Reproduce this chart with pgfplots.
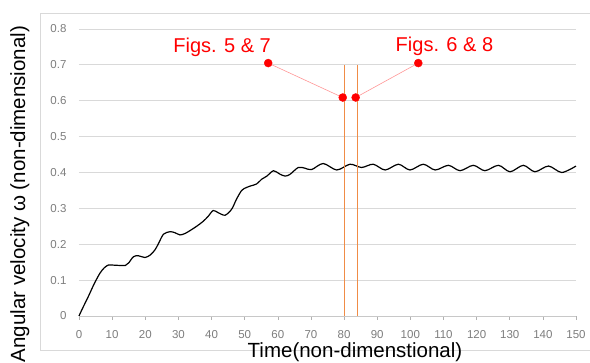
\documentclass[border=0pt]{standalone}
\usepackage{fontspec}
\setmainfont{Liberation Sans}
\usepackage{pgfplots}
\pgfplotsset{compat=1.18}
\definecolor{gridc}{RGB}{217,217,217}
\definecolor{axisc}{RGB}{200,200,200}
\definecolor{tickc}{RGB}{125,125,125}
\definecolor{orangec}{RGB}{240,140,70}
\definecolor{lightred}{RGB}{255,150,150}
\definecolor{framec}{RGB}{217,217,217}
\begin{document}
\begin{tikzpicture}
\path[use as bounding box] (0,0) rectangle (590pt,363pt);
\draw[framec, line width=0.8pt] (40pt,13pt) rectangle (600pt,350pt);
\begin{axis}[
  at={(79pt,47pt)}, anchor=south west,
  scale only axis, width=497pt, height=287pt,
  xmin=0, xmax=150, ymin=0, ymax=0.8,
  xtick={0,10,...,150},
  ytick={0,0.1,...,0.8},
  axis line style={draw=none},
  ymajorgrids, grid style={gridc, line width=0.8pt},
  tick align=outside, xtick pos=bottom, ytick pos=left,
  major tick length=4pt,
  xtick style={tickc!60, line width=0.6pt},
  ytick style={draw=none},
  /pgf/number format/assume math mode=true,
  /pgf/number format/fixed,
  ticklabel style={font=\fontsize{11.5}{13}\selectfont, text=tickc},
  xticklabel style={yshift=-7pt},
  yticklabel style={xshift=-5pt},
  clip=false,
]
\addplot[axisc, line width=0.8pt] coordinates {(0,0) (150,0)};
\addplot[black, line width=1.2pt, smooth, tension=0.5] coordinates {
(0,0) (1,0.02) (2.8,0.054) (4.5,0.088) (6.3,0.119) (7.7,0.135) (8.9,0.142)
(10,0.142) (12,0.141) (14,0.141) (15,0.148) (16.4,0.165) (17.9,0.168)
(19.9,0.163) (21.5,0.170) (22.9,0.184) (24,0.202) (25.5,0.228) (27.5,0.235)
(29,0.232) (30.5,0.226) (32,0.230) (33.5,0.238) (35.5,0.250) (37.5,0.264)
(39,0.278) (40.5,0.294) (42,0.288) (44.1,0.281) (46.1,0.298) (47.5,0.325)
(49.1,0.350) (50.5,0.358) (51.6,0.362) (53.6,0.368) (55.1,0.381) (56.7,0.390)
(58.7,0.405) (60.5,0.396) (62.2,0.390) (63.7,0.395) (66.2,0.414) (68.2,0.412)
(70.2,0.408) (73.7,0.425) (77.8,0.407) (81.8,0.423) (85.3,0.414) (88.8,0.423)
(92.4,0.407) (96.4,0.423) (99.9,0.407) (103.9,0.423) (107.5,0.407) (111.5,0.420)
(115.0,0.405) (119.0,0.420) (122.5,0.405) (126.6,0.420) (130.1,0.402) (134.1,0.420)
(137.6,0.402) (141.7,0.418) (145.7,0.400) (150,0.418)
};
\addplot[orangec, line width=0.8pt] coordinates {(80,0) (80,0.70)};
\addplot[orangec, line width=0.8pt] coordinates {(84,0) (84,0.70)};
\addplot[lightred, line width=0.6pt] coordinates {(57.1,0.705) (79.6,0.609)};
\addplot[lightred, line width=0.6pt] coordinates {(83.5,0.609) (102.4,0.705)};
\addplot[only marks, mark=*, red, mark size=4pt] coordinates {(57.1,0.705) (79.6,0.609) (83.5,0.609) (102.4,0.705)};
\node[text=red, font=\fontsize{20}{24}\selectfont] at (axis cs:43.2,0.749) {Figs. 5 \& 7};
\node[text=red, font=\fontsize{20}{24}\selectfont] at (axis cs:110.3,0.752) {Figs. 6 \& 8};
\end{axis}
\node[anchor=base, font=\fontsize{20.5}{24}\selectfont, inner sep=0pt] at (355pt,5pt) {Time(non-dimenstional)};
\node[anchor=base, rotate=90, font=\fontsize{20.5}{24}\selectfont, inner sep=0pt] at (25pt,169pt) {Angular velocity ω (non-dimensional)};
\end{tikzpicture}
\end{document}
